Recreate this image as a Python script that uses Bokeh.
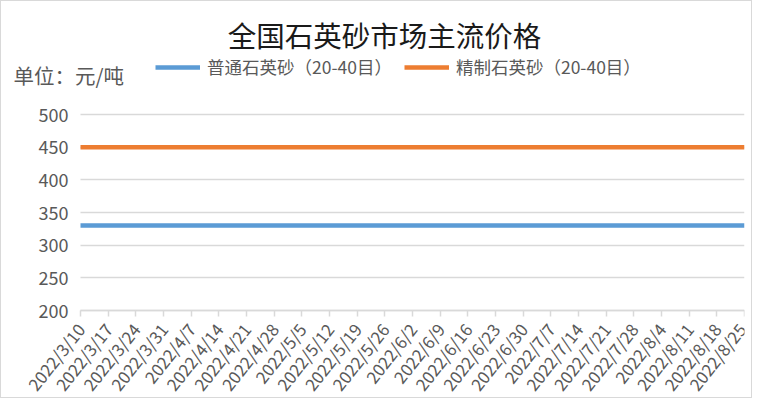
from bokeh.plotting import figure
from bokeh.models import FixedTicker, Label, Legend, LegendItem, Range1d
from bokeh.embed import file_html
from bokeh.resources import INLINE

# ---- data ----
dates = ["2022/3/10", "2022/3/17", "2022/3/24", "2022/3/31", "2022/4/7",
         "2022/4/14", "2022/4/21", "2022/4/28", "2022/5/5", "2022/5/12",
         "2022/5/19", "2022/5/26", "2022/6/2", "2022/6/9", "2022/6/16",
         "2022/6/23", "2022/6/30", "2022/7/7", "2022/7/14", "2022/7/21",
         "2022/7/28", "2022/8/4", "2022/8/11", "2022/8/18", "2022/8/25"]
ordinary = [330, 330, 330, 330, 330, 330, 330, 330, 330, 330, 330, 330, 330,
            330, 330, 330, 330, 330, 330, 330, 330, 330, 330, 330, 330]
refined = [450, 450, 450, 450, 450, 450, 450, 450, 450, 450, 450, 450, 450,
           450, 450, 450, 450, 450, 450, 450, 450, 450, 450, 450, 450]
series_names = ["普通石英砂（20-40目）", "精制石英砂（20-40目）"]
y_ticks = [200, 250, 300, 350, 400, 450, 500]
title_text = "全国石英砂市场主流价格"
unit_text = "单位：元/吨"

idx = list(range(len(dates)))
last = len(dates) - 1
y_min = y_ticks[0]

CJK = "Noto Sans CJK SC"
GREY = "#595959"
GRID = "#d9d9d9"

# the frame covers the whole canvas; axes are pinned inside it
p = figure(width=752, height=398, output_backend="svg", toolbar_location=None,
           x_range=Range1d(-2.4578, last), y_range=Range1d(63.8, 672.96),
           min_border_left=11, min_border_right=9, min_border_top=0,
           min_border_bottom=0)
p.styles = {"border": "1px solid #d9d9d9"}
p.outline_line_color = None
p.background_fill_color = "white"
p.border_fill_color = "white"

r1 = p.line(idx, ordinary, line_color="#5b9bd5", line_width=4.5)
r2 = p.line(idx, refined, line_color="#ed7d31", line_width=4.5)

# x axis drawn at the bottom value of the value axis
p.xaxis.fixed_location = y_min
p.xaxis.ticker = FixedTicker(ticks=idx)
p.xaxis.bounds = (0, last)
p.xaxis.major_label_overrides = {i: d for i, d in zip(idx, dates)}
p.xaxis.major_label_orientation = 0.9
p.xaxis.major_label_text_font = CJK
p.xaxis.major_label_text_font_size = "17px"
p.xaxis.major_label_text_color = GREY
p.xaxis.axis_line_color = GRID
p.xaxis.axis_line_width = 1.5
p.xaxis.major_tick_line_color = GRID
p.xaxis.major_tick_line_width = 1.5
p.xaxis.major_tick_in = 0
p.xaxis.major_tick_out = 6
p.xaxis.minor_tick_line_color = None
p.xaxis.major_label_standoff = 9

# y axis drawn at x = first category
p.yaxis.fixed_location = 0
p.yaxis.bounds = (y_min, y_ticks[-1])
p.yaxis.ticker = FixedTicker(ticks=y_ticks)
p.yaxis.major_label_text_font = CJK
p.yaxis.major_label_text_font_size = "18px"
p.yaxis.major_label_text_color = GREY
p.yaxis.axis_line_color = None
p.yaxis.major_tick_line_color = None
p.yaxis.minor_tick_line_color = None
p.yaxis.major_tick_in = 0
p.yaxis.major_tick_out = 0
p.yaxis.major_label_standoff = 12

p.xgrid.grid_line_color = None
p.ygrid.ticker = FixedTicker(ticks=y_ticks)
p.ygrid.grid_line_color = GRID
p.ygrid.grid_line_width = 1.5
try:
    p.ygrid.cross_bounds = (0, last)
except Exception:
    p.ygrid.grid_line_color = None
    p.segment(x0=[0] * len(y_ticks), y0=y_ticks, x1=[last] * len(y_ticks),
              y1=y_ticks, line_color=GRID, line_width=1.5, level="underlay")

# title and unit label
p.add_layout(Label(x=10.988, y=622, text=title_text, text_font=CJK,
                   text_font_size="28.5px", text_color="#1a1a1a",
                   text_align="center", text_baseline="middle"))
p.add_layout(Label(x=-2.42, y=559.7, text=unit_text, text_font=CJK,
                   text_font_size="20.5px", text_color=GREY,
                   text_align="left", text_baseline="middle"))

legend = Legend(items=[LegendItem(label=series_names[0], renderers=[r1]),
                       LegendItem(label=series_names[1], renderers=[r2])],
                orientation="horizontal", location=(143, 320),
                label_text_font=CJK, label_text_font_size="17.5px",
                label_text_color=GREY, glyph_width=45, glyph_height=20,
                label_height=20, label_standoff=7, spacing=12, padding=0,
                margin=0, border_line_color=None, background_fill_alpha=0)
p.add_layout(legend, "center")

open("out.html", "w").write(file_html(p, INLINE))
